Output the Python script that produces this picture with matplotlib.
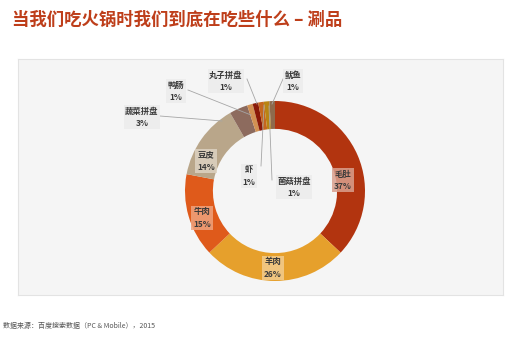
import matplotlib
matplotlib.use("Agg")
import matplotlib.pyplot as plt

plt.rcParams['font.family'] = ['Noto Sans CJK SC', 'DejaVu Sans']

categories = ["毛肚", "羊肉", "牛肉", "豆皮", "蔬菜拼盘", "鸭肠", "丸子拼盘", "虾", "菌菇拼盘", "鱿鱼"]
values = [37, 26, 15, 13.7, 3.3, 1, 1, 1, 1, 1]
pct_labels = ["37%", "26%", "15%", "14%", "3%", "1%", "1%", "1%", "1%", "1%"]
colors = ["#B2340F", "#E6A02C", "#DF5A1B", "#B9A68A", "#8D6B5E", "#D29152",
          "#8A1A08", "#C5661E", "#B98412", "#8E6A4C"]

W, H = 507, 339
fig = plt.figure(figsize=(W / 100, H / 100), dpi=100)
fig.patch.set_facecolor("white")

# panel
bg = fig.add_axes([18 / W, 1 - 295 / H, (503 - 18) / W, (295 - 59) / H])
bg.set_facecolor("#F5F5F5")
bg.set_xticks([])
bg.set_yticks([])
for s in bg.spines.values():
    s.set_color("#E3E3E3")
    s.set_linewidth(0.8)

# title & footer
fig.text(12 / W, 1 - 20 / H, "当我们吃火锅时我们到底在吃些什么 – 涮品",
         fontsize=12.5, fontweight="bold", color="#BE3E1A", va="center", ha="left")
fig.text(3 / W, 1 - 326 / H, "数据来源：百度搜索数据（PC & Mobile），2015",
         fontsize=5, color="#555555", va="center", ha="left")

cx, cy, R = 275, 191, 90
ax = fig.add_axes([(cx - R) / W, 1 - (cy + R) / H, 2 * R / W, 2 * R / H])
ax.axis("off")
ax.patch.set_alpha(0)
ax.pie(values, colors=colors, startangle=90, counterclock=False, radius=1,
       wedgeprops=dict(width=0.31, edgecolor="none"))
ax.set_xlim(-1, 1)
ax.set_ylim(-1, 1)


def d(px, py):
    return ((px - cx) / R, (cy - py) / R)


# label positions (pixel coords of text centre), boxes
label_pos = {
    "毛肚": (343, 180), "羊肉": (273, 268), "牛肉": (202, 218), "豆皮": (206, 161),
    "蔬菜拼盘": (142, 117), "鸭肠": (176, 91), "丸子拼盘": (226, 81),
    "虾": (249, 176), "菌菇拼盘": (294, 187), "鱿鱼": (293, 81),
}
box_colors = {"毛肚": "#D9A08E", "羊肉": "#F2CC8E", "牛肉": "#EFA27E", "豆皮": "#DDD2C2"}
leaders = {
    "蔬菜拼盘": ((160, 116), (222, 121)),
    "鸭肠": ((188, 90), (251, 115)),
    "丸子拼盘": ((247, 79), (257, 104)),
    "鱿鱼": ((283, 79), (272, 104)),
    "虾": ((261, 166), (264, 105)),
    "菌菇拼盘": ((272, 180), (269, 106)),
}

for name, pct in zip(categories, pct_labels):
    px, py = label_pos[name]
    x, y = d(px, py)
    fc = box_colors.get(name, "#EDEDED")
    alpha = 0.85 if name in box_colors else 0.9
    ax.text(x, y, f"{name}\n{pct}", ha="center", va="center", fontsize=6,
            fontweight="bold", color="#3A3A3A", linespacing=1.45, zorder=5,
            bbox=dict(boxstyle="square,pad=0.2", facecolor=fc, edgecolor="none", alpha=alpha))
    if name in leaders:
        (x0, y0), (x1, y1) = leaders[name]
        a0, b0 = d(x0, y0)
        a1, b1 = d(x1, y1)
        ax.plot([a0, a1], [b0, b1], color="#A6A6A6", linewidth=0.6, zorder=4, clip_on=False)

fig.savefig("out.png", dpi=100)
